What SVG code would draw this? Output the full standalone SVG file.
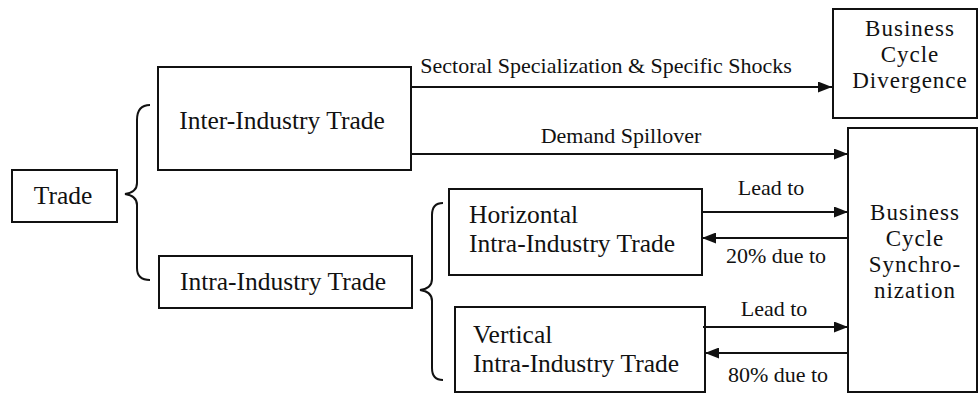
<svg xmlns="http://www.w3.org/2000/svg" width="979" height="394" viewBox="0 0 979 394">
<style>
  .box { fill: #fff; stroke: #111; stroke-width: 2; }
  .nt { font-family: "Liberation Serif", "Times New Roman", serif; font-size: 25.5px; fill: #111; }
  .rt { font-family: "Liberation Serif", "Times New Roman", serif; font-size: 23px; letter-spacing: 1px; fill: #111; text-anchor: middle; }
  .lt { font-family: "Liberation Serif", "Times New Roman", serif; font-size: 22px; fill: #111; text-anchor: middle; }
  .mid { text-anchor: middle; }
  .edge { stroke: #111; stroke-width: 2.2; fill: none; }
  .brace { stroke: #111; stroke-width: 2; fill: none; }
</style>
<defs>
  <marker id="ah" markerUnits="userSpaceOnUse" markerWidth="14" markerHeight="11" refX="14" refY="5.5" orient="auto">
    <path d="M0,0 L14,5.5 L0,11 z" fill="#111"/>
  </marker>
</defs>
<rect width="979" height="394" fill="#fff"/>

<g id="trade">
  <rect class="box" x="12" y="170" width="105" height="52"/>
  <text class="nt mid" x="63" y="204">Trade</text>
</g>
<g id="inter">
  <rect class="box" x="158" y="67" width="253" height="103"/>
  <text class="nt mid" x="282" y="129">Inter-Industry Trade</text>
</g>
<g id="intra">
  <rect class="box" x="159" y="256" width="253" height="52"/>
  <text class="nt mid" x="283" y="290">Intra-Industry Trade</text>
</g>
<g id="horizontal">
  <rect class="box" x="449" y="189" width="253" height="86"/>
  <text class="nt" x="469" y="223">Horizontal</text>
  <text class="nt" x="469" y="252">Intra-Industry Trade</text>
</g>
<g id="vertical">
  <rect class="box" x="455" y="307" width="250" height="85"/>
  <text class="nt" x="473" y="343">Vertical</text>
  <text class="nt" x="473" y="372">Intra-Industry Trade</text>
</g>
<g id="divergence">
  <rect class="box" x="833" y="9" width="144" height="109"/>
  <text class="rt" x="910" y="36">Business</text>
  <text class="rt" x="910" y="62">Cycle</text>
  <text class="rt" x="910" y="88">Divergence</text>
</g>
<g id="synchronization">
  <rect class="box" x="848" y="128" width="129" height="264"/>
  <text class="rt" x="915" y="220">Business</text>
  <text class="rt" x="915" y="246">Cycle</text>
  <text class="rt" x="915" y="272">Synchro-</text>
  <text class="rt" x="915" y="298">nization</text>
</g>

<g id="braces">
  <path class="brace" d="M150,105 C141,105 137,110 137,120 L137,183 C137,190 132,193 125,194 C132,195 137,198 137,205 L137,268 C137,276 141,280 150,280"/>
  <path class="brace" d="M443,203 C436,203 432,207 432,215 L432,279 C432,286 428,289 420,290 C428,291 432,294 432,301 L432,368 C432,376 436,380 443,380"/>
</g>

<g id="connectors">
  <line class="edge" x1="411" y1="87" x2="832" y2="87" marker-end="url(#ah)"/>
  <line class="edge" x1="411" y1="154" x2="848" y2="154" marker-end="url(#ah)"/>
  <line class="edge" x1="702" y1="212" x2="848" y2="212" marker-end="url(#ah)"/>
  <line class="edge" x1="848" y1="238" x2="702" y2="238" marker-end="url(#ah)"/>
  <line class="edge" x1="703" y1="327" x2="848" y2="327" marker-end="url(#ah)"/>
  <line class="edge" x1="848" y1="353" x2="705" y2="353" marker-end="url(#ah)"/>
  <text class="lt" x="606" y="73">Sectoral Specialization &amp; Specific Shocks</text>
  <text class="lt" x="621" y="143">Demand Spillover</text>
  <text class="lt" x="771" y="195">Lead to</text>
  <text class="lt" x="776" y="263">20% due to</text>
  <text class="lt" x="774" y="316">Lead to</text>
  <text class="lt" x="778" y="382">80% due to</text>
</g>
</svg>
